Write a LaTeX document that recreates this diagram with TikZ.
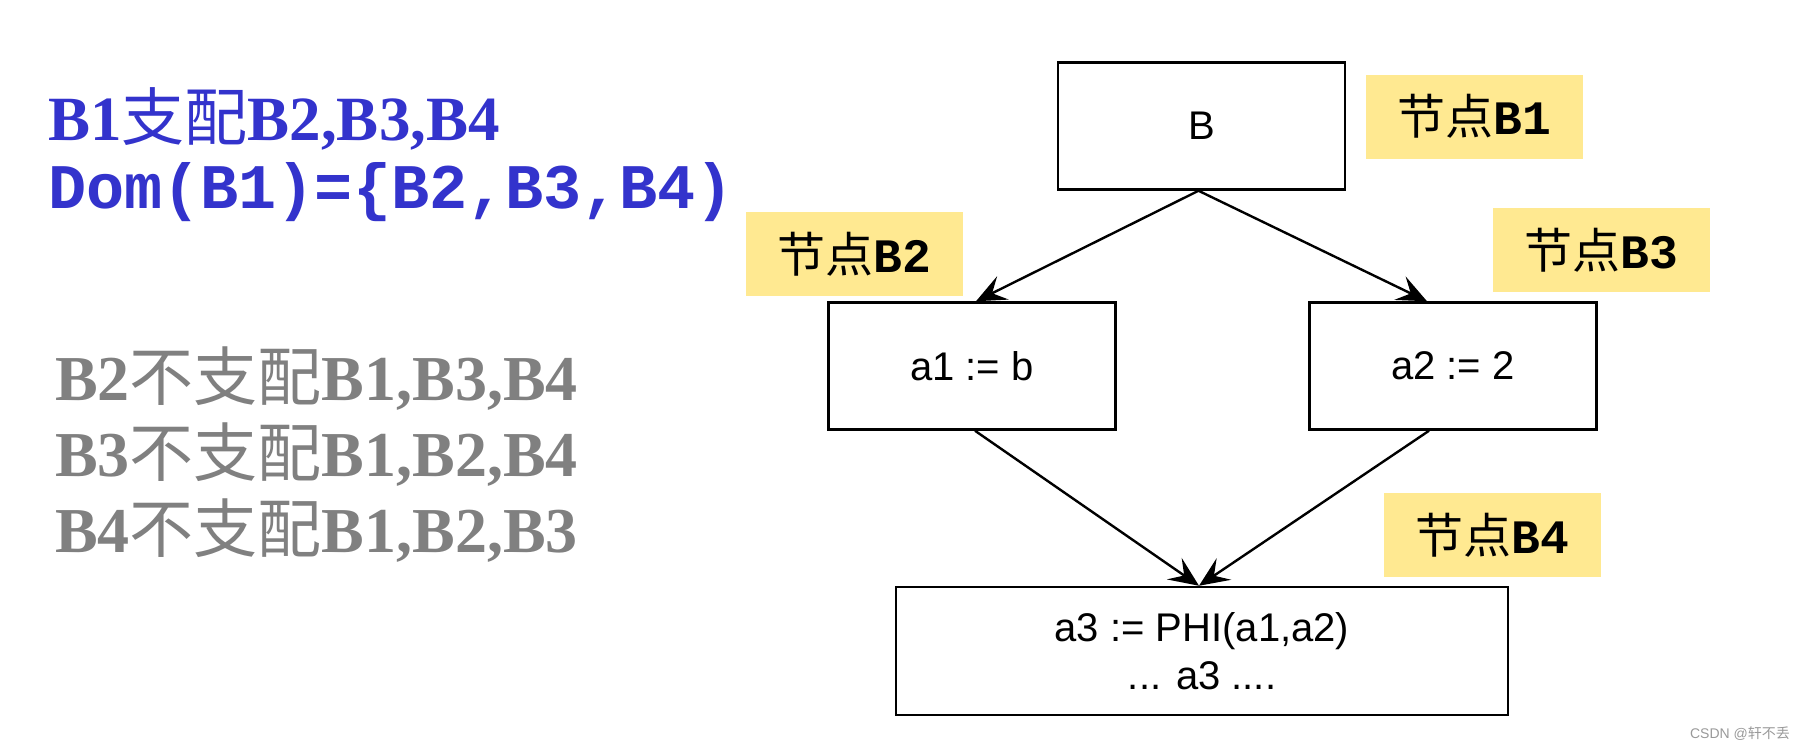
\documentclass[tikz,border=0pt]{standalone}
\usepackage{fontspec}
\setmainfont{Liberation Serif}
\setsansfont{Liberation Sans}
\setmonofont{Liberation Mono}
\newfontfamily\cjk{Noto Sans CJK SC}
\usetikzlibrary{arrows.meta}
\definecolor{dblue}{RGB}{51,51,204}
\definecolor{dgray}{RGB}{128,128,128}
\definecolor{labyellow}{RGB}{255,233,145}
\tikzset{
  blockbox/.style={draw, line width=2.5pt, inner sep=0pt, align=center,
    minimum width=287pt, minimum height=127pt,
    font=\sffamily\fontsize{40}{48}\selectfont},
  tag/.style={fill=labyellow, inner sep=0pt, minimum width=217pt, minimum height=84pt,
    font=\fontsize{48}{50}\selectfont},
  flow/.style={line width=2.4pt, -{Stealth[length=30pt,width=26pt,inset=12pt]}},
  lefttext/.style={anchor=base west, inner sep=0pt},
}
\begin{document}
\begin{tikzpicture}[x=1pt,y=-1pt]
\useasboundingbox (0,0) rectangle (1803,753);
% left texts
\node[lefttext, text=dblue, font=\bfseries\fontsize{63}{63}\selectfont] (t1) at (48,140) {B1{\cjk\mdseries 支配}B2,B3,B4};
\node[lefttext, text=dblue, font=\ttfamily\bfseries\fontsize{63.5}{63.5}\selectfont] (t2) at (48,208) {Dom(B1)=\{B2,B3,B4)};
\node[lefttext, text=dgray, font=\bfseries\fontsize{64}{64}\selectfont] (t3) at (55,400) {B2{\cjk\mdseries 不支配}B1,B3,B4};
\node[lefttext, text=dgray, font=\bfseries\fontsize{64}{64}\selectfont] (t4) at (55,476) {B3{\cjk\mdseries 不支配}B1,B2,B4};
\node[lefttext, text=dgray, font=\bfseries\fontsize{64}{64}\selectfont] (t5) at (55,552) {B4{\cjk\mdseries 不支配}B1,B2,B3};
% boxes
\node[blockbox] (b1) at (1201.5,126) {B};
\node[blockbox] (b2) at (972,366) {a1 := b};
\node[blockbox] (b3) at (1453,366) {a2 := 2};
\node[blockbox, minimum width=612pt, minimum height=128pt] (b4) at (1202,651) {a3 := PHI(a1,a2)\\... a3 ....};
% tags
\node[tag] (l1) at (1474.5,116.5) {{\cjk 节点}{\ttfamily\bfseries B1}};
\node[tag] (l2) at (854,254) {{\cjk 节点}{\ttfamily\bfseries B2}};
\node[tag] (l3) at (1601.5,250) {{\cjk 节点}{\ttfamily\bfseries B3}};
\node[tag] (l4) at (1492.5,535) {{\cjk 节点}{\ttfamily\bfseries B4}};
% arrows
\draw[flow] ([xshift=-3pt]b1.south) -- ([xshift=4pt]b2.north);
\draw[flow] ([xshift=-3pt]b1.south) -- ([xshift=-26pt]b3.north);
\draw[flow] ([xshift=3pt]b2.south) -- ([xshift=-3pt]b4.north);
\draw[flow] ([xshift=-24pt]b3.south) -- ([xshift=-3pt]b4.north);
% watermark
\node[anchor=east, inner sep=0pt, text=gray!80, font=\sffamily\fontsize{14}{14}\selectfont] (wm) at (1790,734) {CSDN @{\cjk 轩不丢}};
\end{tikzpicture}
\end{document}
